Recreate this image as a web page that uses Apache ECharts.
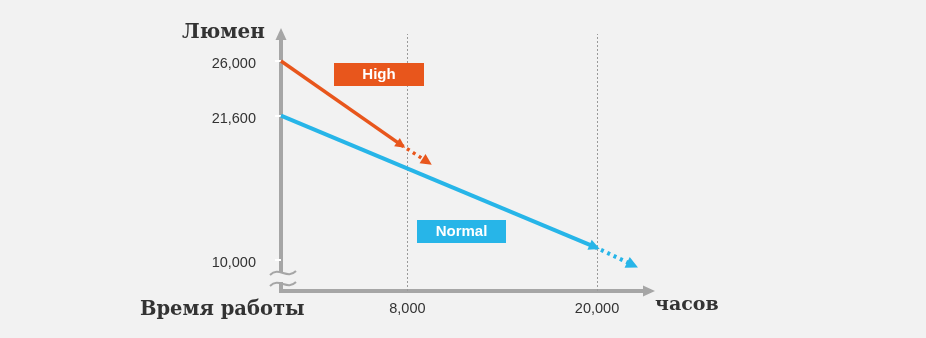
<!DOCTYPE html>
<html>
<head>
<meta charset="utf-8">
<script src="https://cdn.jsdelivr.net/npm/echarts@6/dist/echarts.min.js"></script>
<style>
html,body{margin:0;padding:0;background:#f2f2f2;}
#chart{width:926px;height:338px;}
</style>
</head>
<body>
<div id="chart"></div>
<script>
// ---- data ----
const yTickValues = [10000, 21600, 26000];
const xTickValues = [8000, 20000];
const highSolid = [[0, 26000], [7600, 19250]];
const highDotted = [[7600, 19250], [9250, 17900]];
const normalSolid = [[0, 21600], [19850, 11050]];
const normalDotted = [[19850, 11050], [22250, 9600]];
const seriesNames = ['High', 'Normal'];
const yAxisName = 'Люмен';
const xAxisTitle = 'Время работы';
const xAxisUnit = 'часов';

const ORANGE = '#e8561c';
const BLUE = '#27b5e8';
const AXIS = '#a6a6a6';
const BG = '#f2f2f2';

const fmt = v => v.toLocaleString('en-US');

const chart = echarts.init(document.getElementById('chart'));

function seg(coords, color, width, dash, name, size) {
  return {
    type: 'lines',
    name: name,
    coordinateSystem: 'cartesian2d',
    polyline: false,
    symbol: ['none', 'triangle'],
    symbolSize: size,
    lineStyle: { color: color, width: width, type: dash, opacity: 1, cap: 'butt' },
    itemStyle: { color: color },
    data: [{ coords: coords }],
    z: 5,
    silent: true
  };
}

const option = {
  backgroundColor: BG,
  animation: false,
  grid: { left: 281, right: 277, top: 34, bottom: 47 },
  title: [
    { text: yAxisName, left: 182, top: 23, padding: 0,
      textStyle: { fontFamily: 'DejaVu Serif', fontWeight: 'bold', fontSize: 20, color: '#333' } },
    { text: xAxisTitle, left: 140, top: 300, padding: 0,
      textStyle: { fontFamily: 'DejaVu Serif', fontWeight: 'bold', fontSize: 19.5, color: '#333' } },
    { text: xAxisUnit, left: 655, top: 296, padding: 0,
      textStyle: { fontFamily: 'DejaVu Serif', fontWeight: 'bold', fontSize: 19, color: '#333' } }
  ],
  xAxis: {
    type: 'value', min: 0, max: 23290,
    splitLine: { show: false },
    axisLine: { show: true, onZero: false, symbol: ['none', 'triangle'], symbolSize: [11, 12],
      lineStyle: { color: AXIS, width: 4, cap: 'square' } },
    axisTick: { show: false },
    axisLabel: { customValues: xTickValues, formatter: fmt, margin: 10,
      fontFamily: 'Liberation Sans', fontSize: 14.5, color: '#333' }
  },
  yAxis: {
    type: 'value', min: 7500, max: 28170,
    splitLine: { show: false },
    axisLine: { show: true, onZero: false, symbol: ['none', 'triangle'], symbolSize: [11, 12],
      lineStyle: { color: AXIS, width: 4, cap: 'square' } },
    axisTick: { show: true, customValues: yTickValues, length: 6, lineStyle: { color: '#ffffff', width: 2 } },
    axisLabel: { customValues: yTickValues, formatter: v => '{v|' + fmt(v) + '}', margin: 25,
      rich: { v: { fontFamily: 'Liberation Sans', fontSize: 14.5, color: '#333', padding: [7, 0, 0, 0] } } }
  },
  series: [
    {
      type: 'line', data: [], silent: true,
      markLine: {
        silent: true, symbol: ['none', 'none'], label: { show: false },
        lineStyle: { color: '#9a9a9a', width: 1, type: [2, 2] },
        data: xTickValues.map(v => ({ xAxis: v }))
      }
    },
    seg(highSolid, ORANGE, 3.5, 'solid', seriesNames[0], [10, 10]),
    seg(highDotted, ORANGE, 3.5, [3, 4], seriesNames[0], [11, 11]),
    seg(normalSolid, BLUE, 4, 'solid', seriesNames[1], [10, 11]),
    seg(normalDotted, BLUE, 4, [3, 4], seriesNames[1], [11, 12])
  ],
  graphic: [
    // axis break
    { type: 'rect', z: 100, shape: { x: 276, y: 272, width: 11, height: 10 }, style: { fill: BG } },
    { type: 'bezierCurve', z: 101,
      shape: { x1: 270, y1: 275, cpx1: 279, cpy1: 266, cpx2: 287, cpy2: 280, x2: 296, y2: 271 },
      style: { stroke: AXIS, lineWidth: 2, fill: null } },
    { type: 'bezierCurve', z: 101,
      shape: { x1: 270, y1: 286, cpx1: 279, cpy1: 277, cpx2: 287, cpy2: 291, x2: 296, y2: 282 },
      style: { stroke: AXIS, lineWidth: 2, fill: null } },
    // label boxes
    { type: 'rect', z: 100, shape: { x: 334, y: 63, width: 90, height: 23 }, style: { fill: ORANGE } },
    { type: 'text', z: 101, x: 379, y: 75, style: { text: seriesNames[0], fill: '#fff', font: 'bold 15px "Liberation Sans"', align: 'center', verticalAlign: 'middle' } },
    { type: 'rect', z: 100, shape: { x: 417, y: 220, width: 89, height: 23 }, style: { fill: BLUE } },
    { type: 'text', z: 101, x: 461.5, y: 232, style: { text: seriesNames[1], fill: '#fff', font: 'bold 15px "Liberation Sans"', align: 'center', verticalAlign: 'middle' } }
  ]
};
chart.setOption(option);
</script>
</body>
</html>
